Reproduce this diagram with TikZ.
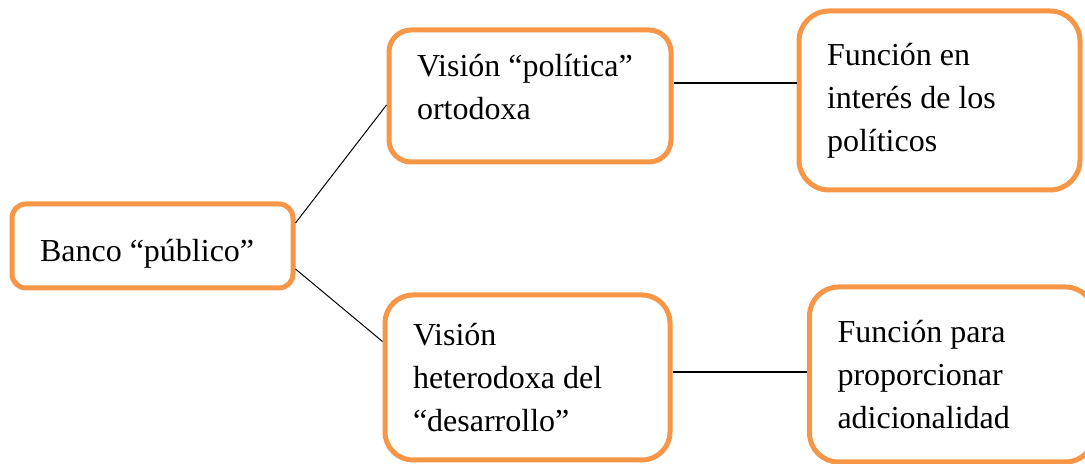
\documentclass[tikz,border=0pt]{standalone}
\usepackage{fontspec}
\setmainfont{Liberation Serif}
\usetikzlibrary{calc}
\definecolor{boxorange}{HTML}{F79646}

\begin{document}
\begin{tikzpicture}[x=1pt, y=1pt]
    \tikzset{box/.style={draw=boxorange, line width=2.5pt, fill=white, align=flush left, inner xsep=14pt,
        font=\fontsize{16}{21.5}\selectfont}}
    \useasboundingbox (0,0) rectangle (542.5,232);
    \node[box, rounded corners=7pt, text width=112.5pt, minimum height=42pt] (banco) at (76.25,109)
        {\raisebox{-4pt}[\height][\depth]{Banco “público”}};
    \node[box, rounded corners=11pt, text width=113pt, minimum height=66pt] (ortodoxa) at (265,184)
        {\raisebox{3.5pt}[\height][\depth]{\begin{tabular}{@{}l@{}}Visión “política”\\ortodoxa\end{tabular}}};
    \node[box, rounded corners=14pt, text width=114.5pt, minimum height=82.5pt] (heterodoxa) at (263.75,43.25) {Visión\\heterodoxa del\\“desarrollo”};
    \node[box, rounded corners=15pt, text width=112.5pt, minimum height=89.5pt] (politicos) at (469.75,181.75) {Función en\\interés de los\\políticos};
    \node[box, rounded corners=14.5pt, text width=114.5pt, minimum height=87.5pt] (adicional) at (476,44.75) {Función para\\proporcionar\\adicionalidad};
    \draw[line width=0.5pt] ([yshift=11.5pt]banco.east) -- ([yshift=-4.5pt]ortodoxa.west);
    \draw[line width=0.5pt] ([yshift=-11.5pt]banco.east) -- ([yshift=18pt]heterodoxa.west);
    \draw[line width=0.75pt] ([yshift=6.5pt]ortodoxa.east) -- ([yshift=6.5pt]ortodoxa.east -| politicos.west);
    \draw[line width=0.75pt] ([yshift=2.75pt]heterodoxa.east) -- ([yshift=2.75pt]heterodoxa.east -| adicional.west);
  \end{tikzpicture}
\end{document}
